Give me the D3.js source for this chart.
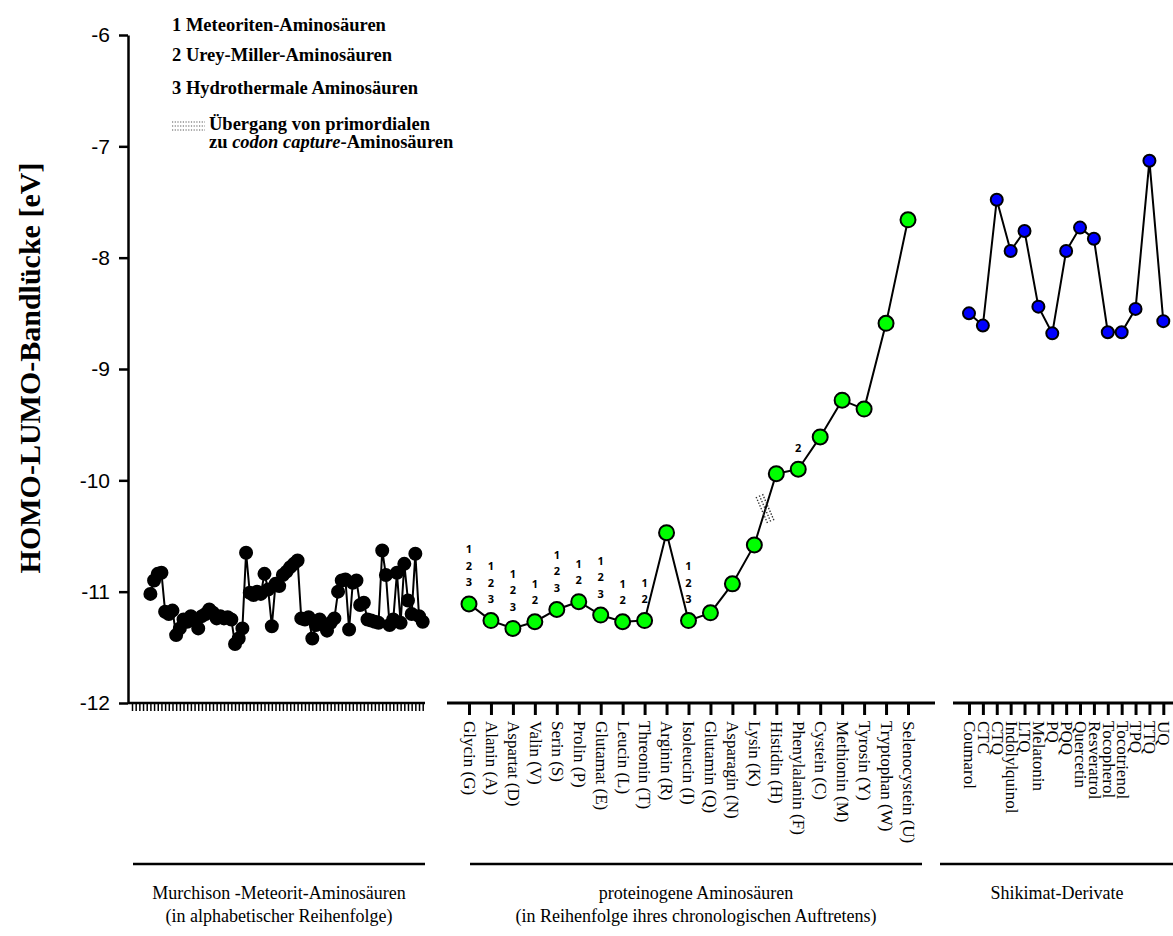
<!DOCTYPE html>
<html>
<head>
<meta charset="utf-8">
<script src="https://cdn.jsdelivr.net/npm/d3@7"></script>
<style>
  body { margin: 0; background: #fff; }
  svg { display: block; }
</style>
</head>
<body>
<script>
const width = 1173, height = 936;

// Murchison meteorite amino acids, alphabetical order (first ticks carry no value)
const meteoriteValues = [
  null, null, null, null, null,
  -11.02, -10.90, -10.84, -10.83, -11.18, -11.20, -11.17, -11.39, -11.33, -11.25,
  -11.27, -11.22, -11.26, -11.33, -11.22, -11.20, -11.16, -11.19, -11.24, -11.22,
  -11.24, -11.23, -11.25, -11.47, -11.42, -11.33, -10.65, -11.01, -11.03, -11.00,
  -11.02, -10.84, -10.98, -11.31, -10.93, -10.95, -10.85, -10.82, -10.78, -10.75,
  -10.72, -11.24, -11.25, -11.23, -11.42, -11.30, -11.25, -11.30, -11.35, -11.28,
  -11.24, -11.00, -10.90, -10.89, -11.34, -10.92, -10.90, -11.12, -11.10, -11.25,
  -11.26, -11.27, -11.28, -10.63, -10.85, -11.30, -11.25, -10.83, -11.28, -10.75,
  -11.08, -11.20, -10.66, -11.22, -11.27
];

// proteinogenic amino acids, chronological order
const proteinNames = [
  "Glycin (G)", "Alanin (A)", "Aspartat (D)", "Valin (V)", "Serin (S)", "Prolin (P)",
  "Glutamat (E)", "Leucin (L)", "Threonin (T)", "Arginin (R)", "Isoleucin (I)",
  "Glutamin (Q)", "Asparagin (N)", "Lysin (K)", "Histidin (H)", "Phenylalanin (F)",
  "Cystein (C)", "Methionin (M)", "Tyrosin (Y)", "Tryptophan (W)", "Selenocystein (U)"
];
const proteinValues = [
  -11.11, -11.26, -11.33, -11.27, -11.16, -11.09, -11.21, -11.27, -11.26, -10.47,
  -11.26, -11.19, -10.93, -10.58, -9.94, -9.90, -9.61, -9.28, -9.36, -8.59, -7.66
];
// 1 = meteorite, 2 = Urey-Miller, 3 = hydrothermal
const proteinSources = [
  "123", "123", "123", "12", "123", "12", "123", "12", "12", "",
  "123", "", "", "", "", "2", "", "", "", "", ""
];
const transitionAfter = "Lysin (K)";

const shikimateNames = [
  "Coumarol", "CTC", "CTQ", "Indolylquinol", "LTQ", "Melatonin", "PQ", "PQQ",
  "Quercetin", "Resveratrol", "Tocopherol", "Tocotrienol", "TPQ", "TTQ", "UQ"
];
const shikimateValues = [
  -8.50, -8.61, -7.48, -7.94, -7.76, -8.44, -8.68, -7.94, -7.73, -7.83,
  -8.67, -8.67, -8.46, -7.13, -8.57
];

const yTicks = [-12, -11, -10, -9, -8, -7, -6];

const legendItems = [
  "1 Meteoriten-Aminosäuren",
  "2 Urey-Miller-Aminosäuren",
  "3 Hydrothermale Aminosäuren"
];
const groupTitles = [
  ["Murchison -Meteorit-Aminosäuren", "(in alphabetischer Reihenfolge)"],
  ["proteinogene Aminosäuren", "(in Reihenfolge ihres chronologischen Auftretens)"],
  ["Shikimat-Derivate"]
];

const serif = "'Liberation Serif', 'Times New Roman', serif";
const sans = "'Liberation Sans', Arial, sans-serif";

const svg = d3.select("body").append("svg")
  .attr("width", width)
  .attr("height", height);

svg.append("rect").attr("width", width).attr("height", height).attr("fill", "#fff");

const axisY = 703;
const y = d3.scaleLinear().domain([-12, -6]).range([axisY, 35]);

const xM = d3.scalePoint().domain(d3.range(meteoriteValues.length)).range([132, 422.7]);
const xP = d3.scalePoint().domain(proteinNames).range([469, 908]);
const xS = d3.scalePoint().domain(shikimateNames).range([969, 1163.3]);

// y axis
svg.append("g")
  .attr("transform", "translate(128,0)")
  .call(d3.axisLeft(y).tickValues(yTicks).tickSize(9).tickSizeOuter(0).tickPadding(9)
    .tickFormat(d => String(d)))
  .call(g => g.selectAll("path, line").attr("stroke", "#000").attr("stroke-width", 2.5))
  .call(g => g.selectAll("text").attr("font-family", sans).attr("font-size", 21).attr("fill", "#000"));

svg.append("text")
  .attr("transform", "translate(29,368) rotate(-90)")
  .attr("text-anchor", "middle")
  .attr("dominant-baseline", "central")
  .attr("font-family", serif)
  .attr("font-weight", "bold")
  .attr("font-size", 30)
  .text("HOMO-LUMO-Bandlücke [eV]");

// x axis segments
function segment(x0, x1, w) {
  svg.append("line")
    .attr("x1", x0).attr("x2", x1)
    .attr("y1", axisY).attr("y2", axisY)
    .attr("stroke", "#000").attr("stroke-width", w);
}
segment(128, 425, 2.5);
segment(447, 935, 3);
segment(953, 1173, 3);

svg.append("g")
  .attr("transform", `translate(0,${axisY})`)
  .call(d3.axisBottom(xM).tickSize(8).tickSizeOuter(0).tickFormat(""))
  .call(g => g.select(".domain").remove())
  .call(g => g.selectAll("line").attr("stroke", "#000").attr("stroke-width", 1.5));

function labelledAxis(scale) {
  svg.append("g")
    .attr("transform", `translate(0,${axisY})`)
    .call(d3.axisBottom(scale).tickSize(12).tickSizeOuter(0))
    .call(g => g.select(".domain").remove())
    .call(g => g.selectAll("line").attr("stroke", "#000").attr("stroke-width", 3))
    .call(g => g.selectAll("text")
      .attr("transform", "rotate(90)")
      .attr("x", 18).attr("y", 0).attr("dy", "0.33em")
      .attr("text-anchor", "start")
      .attr("font-family", serif).attr("font-size", 17).attr("fill", "#000"));
}
labelledAxis(xP);
labelledAxis(xS);

// series
function series(data, xFn, fill, r) {
  const line = d3.line()
    .defined(d => d.v != null)
    .x(d => xFn(d.k))
    .y(d => y(d.v));
  svg.append("path")
    .datum(data)
    .attr("fill", "none")
    .attr("stroke", "#000")
    .attr("stroke-width", 2)
    .attr("d", line);
  svg.append("g").selectAll("circle")
    .data(data.filter(d => d.v != null))
    .join("circle")
    .attr("cx", d => xFn(d.k))
    .attr("cy", d => y(d.v))
    .attr("r", r)
    .attr("fill", fill)
    .attr("stroke", "#000")
    .attr("stroke-width", 2);
}

series(meteoriteValues.map((v, i) => ({ k: i, v })), xM, "#000", 6);
series(proteinNames.map((k, i) => ({ k, v: proteinValues[i] })), xP, "#00ff00", 7.5);
series(shikimateNames.map((k, i) => ({ k, v: shikimateValues[i] })), xS, "#0000ff", 6);

// source numbers above the proteinogenic amino acids
proteinNames.forEach((name, i) => {
  const s = proteinSources[i];
  s.split("").forEach((c, j) => {
    svg.append("text")
      .attr("x", xP(name))
      .attr("y", y(proteinValues[i]) - 22 - (s.length - 1 - j) * 16.5)
      .attr("text-anchor", "middle")
      .attr("dominant-baseline", "central")
      .attr("font-family", "'Open Sans', " + sans)
      .attr("font-weight", "bold")
      .attr("font-size", 11)
      .text(c);
  });
});

// transition primordial -> codon capture (dotted hatch across the line)
function hatch(cx, cy, angle, len, offsets) {
  const ux = Math.cos(angle), uy = Math.sin(angle);
  offsets.forEach(o => {
    const ox = -uy * o, oy = ux * o;
    svg.append("line")
      .attr("x1", cx + ox - ux * len / 2).attr("y1", cy + oy - uy * len / 2)
      .attr("x2", cx + ox + ux * len / 2).attr("y2", cy + oy + uy * len / 2)
      .attr("stroke", "#333").attr("stroke-width", 1.4)
      .attr("stroke-dasharray", "1.4,1.6");
  });
}
{
  const i = proteinNames.indexOf(transitionAfter);
  const cx = (xP(proteinNames[i]) + xP(proteinNames[i + 1])) / 2;
  const cy = (y(proteinValues[i]) + y(proteinValues[i + 1])) / 2;
  hatch(cx, cy, Math.atan2(23, 10), 30, [-3.5, 0, 3.5]);
}

// legend
const legend = svg.append("g")
  .attr("font-family", serif)
  .attr("font-weight", "bold")
  .attr("font-size", 18.5)
  .attr("fill", "#000");
const legendBaselines = [31, 61, 94];
legendItems.forEach((t, i) => {
  legend.append("text").attr("x", 172).attr("y", legendBaselines[i]).text(t);
});
[122, 126, 130].forEach(yy => {
  svg.append("line")
    .attr("x1", 172).attr("x2", 205).attr("y1", yy).attr("y2", yy)
    .attr("stroke", "#555").attr("stroke-width", 1.2)
    .attr("stroke-dasharray", "1.2,1.5");
});
legend.append("text").attr("x", 209).attr("y", 130).text("Übergang von primordialen");
const l5 = legend.append("text").attr("x", 209).attr("y", 148);
l5.append("tspan").text("zu ");
l5.append("tspan").attr("font-style", "italic").text("codon capture");
l5.append("tspan").text("-Aminosäuren");

// group captions
const groupRanges = [[133, 425], [470, 922], [940, 1173]];
const groupCenters = [279, 696, 1057];
groupRanges.forEach((r, i) => {
  svg.append("line")
    .attr("x1", r[0]).attr("x2", r[1]).attr("y1", 864).attr("y2", 864)
    .attr("stroke", "#000").attr("stroke-width", 2.5);
  groupTitles[i].forEach((t, j) => {
    svg.append("text")
      .attr("x", groupCenters[i])
      .attr("y", 899 + j * 23)
      .attr("text-anchor", "middle")
      .attr("font-family", serif)
      .attr("font-size", 18)
      .attr("fill", "#000")
      .text(t);
  });
});
</script>
</body>
</html>
